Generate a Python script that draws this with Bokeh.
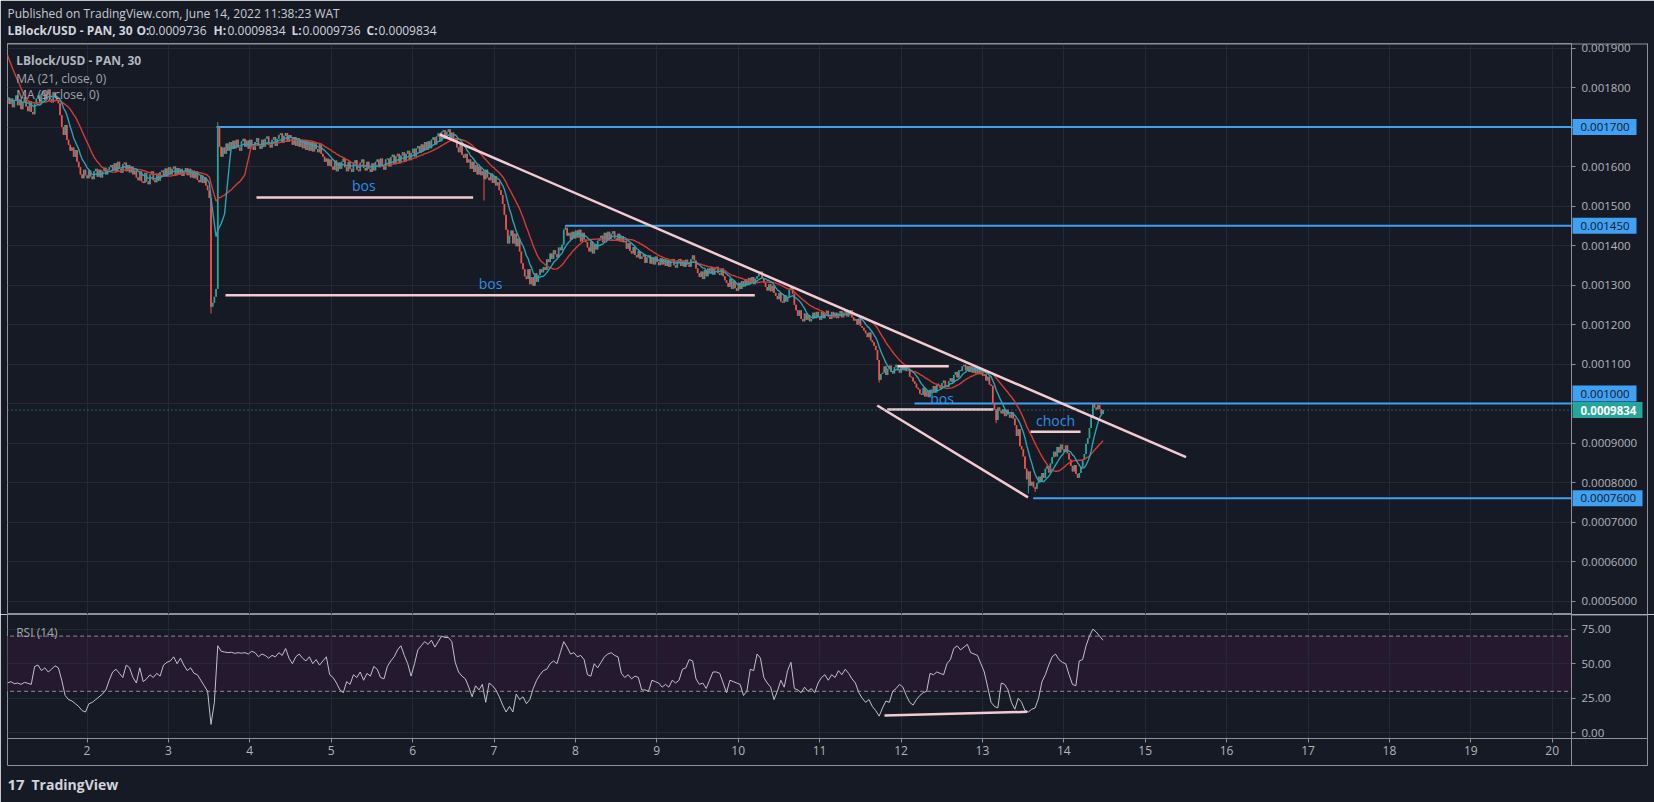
import numpy as np
from bokeh.plotting import figure
from bokeh.models import (Range1d, LinearAxis, FixedTicker, CustomJSTickFormatter,
                          NumeralTickFormatter, Grid, Span, Label, ColumnDataSource)
from bokeh.core.properties import value
from bokeh.layouts import column
from bokeh.embed import file_html
from bokeh.resources import INLINE

# ----------------------------------------------------------------- data
# 30-minute closes of LBlock/USD (units of 1e-6 USD)
warmup_close_e6 = [2010, 1995, 1990, 1980, 1985, 1970, 1960, 1975, 1950, 1940,
                   1920, 1880, 1800, 1775, 1768, 1772, 1765, 1770, 1774, 1768]
close_e6 = [
    1775, 1758, 1772, 1750, 1768, 1780, 1755, 1770, 1745, 1762, 1776,
    1752, 1740, 1765, 1738, 1732, 1758, 1772, 1780, 1762, 1785,
    1790, 1768, 1782, 1795, 1770, 1762, 1788, 1775, 1768, 1760,
    1730, 1700, 1680, 1705, 1668, 1655, 1640, 1648, 1625, 1642, 1612, 1598, 1580, 1570, 1592,
    1578, 1570, 1590, 1575, 1568, 1588, 1594, 1574, 1592, 1572, 1588, 1597, 1580, 1592, 1598,
    1604, 1590, 1608, 1586, 1612, 1594, 1584, 1606, 1610, 1588, 1604, 1585, 1600, 1580, 1590,
    1572, 1565, 1588, 1562, 1558, 1584, 1562, 1555, 1580, 1588, 1565, 1560, 1582, 1564, 1586,
    1590, 1574, 1595, 1578, 1598, 1580, 1594, 1600, 1578, 1596, 1580, 1594, 1576, 1588, 1596,
    1578, 1594, 1572, 1590, 1570, 1588, 1566, 1560, 1578, 1558, 1572, 1552, 1540, 1520,
    1245, 1255, 1270, 1290, 1700, 1650,
    1625, 1648, 1632, 1658, 1640, 1662, 1644, 1665, 1646, 1668, 1648, 1640, 1664, 1670, 1650,
    1666, 1645, 1668, 1650, 1642, 1662, 1672, 1652, 1645, 1668, 1650, 1670, 1676, 1655, 1648,
    1668, 1675, 1652, 1670, 1680, 1684, 1660, 1678, 1685, 1662, 1680, 1672, 1655, 1675, 1652,
    1672, 1650, 1668, 1646, 1666, 1642, 1664, 1640, 1662, 1638, 1660, 1644, 1636, 1658, 1632,
    1625, 1612, 1620, 1602, 1618,
    1600, 1592, 1615, 1588, 1610, 1594, 1612, 1620, 1598, 1588, 1612, 1594, 1586, 1608, 1616,
    1592, 1588, 1610, 1618, 1596, 1590, 1612, 1594, 1586, 1608, 1590, 1612, 1618, 1598, 1620,
    1600, 1592, 1618, 1620, 1600, 1624, 1630, 1606, 1626, 1632, 1608, 1628, 1636, 1612, 1632,
    1640, 1616, 1634, 1645,
    1625, 1646, 1652, 1634, 1656, 1640, 1662, 1642, 1664, 1646, 1668, 1674, 1656,
    1676, 1684, 1664, 1688, 1692, 1670, 1688, 1694, 1668, 1686, 1664, 1672,
    1648, 1636, 1656, 1630, 1622, 1632, 1610,
    1618, 1594, 1612, 1586, 1604, 1580, 1600, 1578,
    1588, 1568, 1592, 1572, 1565, 1582, 1558, 1576, 1552, 1560,
    1540, 1528, 1505, 1478, 1440, 1405,
    1425, 1438, 1405, 1430, 1398, 1418,
    1385, 1355, 1340, 1322, 1315, 1340, 1302, 1320, 1298, 1330, 1308,
    1325, 1340, 1332, 1345, 1338,
    1365, 1358, 1380, 1366, 1388, 1378, 1370, 1395, 1388, 1402,
    1440, 1445, 1425,
    1432, 1415, 1435, 1418, 1438, 1420, 1440, 1410, 1432, 1415, 1408,
    1395, 1385, 1410, 1380, 1402, 1390, 1412,
    1418, 1425, 1408, 1432, 1414, 1435, 1416, 1430, 1436, 1418, 1412, 1430, 1410, 1424, 1408,
    1412, 1392, 1406, 1386, 1380, 1396, 1376, 1370, 1386, 1366,
    1372, 1378, 1356, 1370, 1375, 1354, 1370, 1352, 1372, 1358, 1350, 1368,
    1352, 1366, 1348, 1364, 1346, 1362, 1366, 1350, 1344, 1362, 1366, 1348, 1362, 1346, 1364,
    1352, 1346,
    1365, 1375, 1362,
    1342, 1330, 1320, 1334, 1315, 1338, 1322, 1342,
    1330, 1345, 1326, 1342, 1346, 1330, 1325, 1342, 1322,
    1312, 1305, 1295, 1316, 1290, 1310, 1292, 1285, 1306, 1290, 1310, 1296,
    1314, 1300, 1318, 1304, 1320, 1302, 1316, 1322,
    1328, 1334, 1318, 1306,
    1295, 1286, 1302, 1284, 1298, 1280,
    1272, 1264, 1280, 1258, 1255, 1274, 1258, 1270,
    1288, 1295, 1278,
    1250, 1236, 1222, 1236, 1214, 1208, 1228, 1212, 1224, 1208,
    1214, 1230, 1216, 1232, 1218, 1212, 1232, 1216, 1228, 1235, 1220, 1214, 1232, 1218, 1230,
    1216, 1228, 1234, 1218, 1230, 1236, 1220, 1232, 1236,
    1218, 1210, 1214, 1200, 1215, 1196, 1192, 1185,
    1178, 1168, 1180, 1160, 1155, 1146,
    1135, 1110, 1060, 1075,
    1078, 1094, 1072, 1088, 1096, 1080, 1076, 1092, 1098, 1084, 1078, 1096, 1084, 1098, 1082,
    1084, 1068, 1066, 1056, 1050, 1040,
    1036, 1025, 1022, 1040, 1018, 1032, 1016, 1035,
    1030, 1044, 1028, 1050, 1046, 1038, 1052, 1058, 1044, 1042, 1056, 1064, 1054,
    1072, 1080, 1066, 1084, 1082, 1094, 1098, 1084, 1095,
    1080, 1094, 1078, 1092, 1076, 1090, 1074, 1086, 1070, 1074,
    1058, 1068, 1048, 1045,
    1000, 985, 958, 990,
    982, 975, 986, 968, 984, 972, 964, 978, 962,
    945, 918, 935, 892, 884, 866,
    835, 808, 828, 792,
    802, 788, 784, 798,
    815, 802, 824, 812, 835, 842, 825, 848,
    864, 878, 866, 890, 876, 896, 884, 878, 894, 874,
    858, 842, 828, 844, 822, 812, 824, 838,
    858, 872, 898, 912, 938, 968,
    998, 990, 985, 996, 986, 973.6, 983.4,
]
# long wicks (bar index -> extreme, 1e-6 USD)
low_wick_e6 = {120: 1228, 281: 1514, 514: 1053, 583: 950, 602: 772, 606: 776}
high_wick_e6 = {124: 1712, 329: 1452, 641: 1000}

# RSI(14), one reading per hour (every second bar)
rsi_hourly = [
    36, 37, 35.5, 36, 35, 36.5, 35.8, 35,
    48, 49, 45, 47, 44, 46, 48.5, 47,
    38, 27, 24, 23, 21, 19, 16, 15,
    21, 22, 24, 26, 28, 31, 38, 44,
    46, 43, 40, 49, 47, 40, 36, 47,
    37, 39, 42, 40, 43, 41, 49, 51,
    52, 55, 50, 54, 49, 45, 47, 43,
    42, 38, 34, 30, 6, 22, 63, 59,
    58.5, 58, 58.3, 57.5, 58, 57.6, 58, 57,
    59, 58, 55, 57, 56, 54, 56, 55,
    58, 56, 61, 54, 50, 55, 57, 54,
    52, 55, 50, 53, 49, 52, 55, 42,
    40, 36, 31, 29, 37, 35, 42, 40,
    44, 38, 43, 41, 48, 46, 40, 39,
    48, 52, 55, 60, 63, 56, 50, 41,
    50, 60, 63, 66, 64, 67, 62, 66,
    70, 69, 69, 66, 51, 44, 41, 39,
    33, 26, 34, 31, 35, 22, 36, 34,
    31, 26, 20, 15, 19, 15, 28, 24,
    26, 21, 24, 32, 38, 42, 45, 46,
    50, 52, 50, 58, 66, 62, 57, 58,
    55, 56, 53, 42, 41, 50, 47, 51,
    55, 57, 58, 56, 55, 43, 40, 42,
    39, 41, 40, 31, 31, 30, 38, 37,
    36, 33, 35, 33, 38, 36, 38, 46,
    47, 53, 52, 39, 35, 36, 32, 38,
    44, 44, 43, 36, 29, 38, 37, 36,
    35, 27, 30, 46, 45, 57, 54, 40,
    36, 33, 24, 30, 38, 33, 45, 51,
    32, 31, 29, 33, 30, 32, 29, 36,
    40, 42, 38, 42, 40, 45, 42, 46,
    43, 39, 36, 29, 25, 22, 24, 19,
    16, 12, 18, 23, 22, 30, 32, 35,
    33, 27, 22, 20, 24, 27, 29, 30,
    43, 42, 44, 43, 42, 50, 53, 61,
    63, 60, 62, 64, 58, 57, 56, 50,
    44, 33, 22, 19, 18, 36, 35, 31,
    22, 17, 25, 22, 16, 15, 17, 18,
    25, 37, 42, 49, 55, 57, 53, 51,
    50, 42, 35, 34, 52, 53, 63, 70,
    75, 73, 70, 67,
]

day_ticks = [2, 3, 4, 5, 6, 7, 8, 9, 10, 11, 12, 13, 14, 15, 16, 17, 18, 19, 20]
price_ticks = [0.0005, 0.0006, 0.0007, 0.0008, 0.0009, 0.0010, 0.0011, 0.0012,
               0.0013, 0.0014, 0.0015, 0.0016, 0.0017, 0.0018, 0.0019]
rsi_ticks = [0, 25, 50, 75]
rsi_bands = [30, 70]

last_open = 0.0009736
last_price = 0.0009834
level_prices = [0.0017, 0.00145, 0.0010, 0.00076]
level_start_days = [3.591, 7.878, 12.166, 13.624]

trend_days = [6.334, 15.502]
trend_prices = [0.001681, 0.000864]
channel_days = [11.708, 13.560]
channel_prices = [0.0009949, 0.0007625]
struct_day0 = [4.082, 3.701, 11.961, 11.830, 13.591]
struct_day1 = [6.744, 10.204, 12.587, 13.136, 14.206]
struct_price = [0.0015215, 0.001274, 0.0010944, 0.0009848, 0.0009284]
struct_text = ["bos", "bos", "bos", "choch"]
struct_text_day = [5.400, 6.957, 12.504, 13.898]
struct_text_price = [0.001552, 0.0013046, 0.0010139, 0.0009557]
rsi_div_days = [11.797, 13.551]
rsi_div_values = [12.5, 15.1]

first_bar_day = 1.0233
bars_per_day = 48

# ----------------------------------------------------------------- style
BG = "#161a25"
GRID = "#252935"
FRAME = "#8e919a"
TXT = "#b2b5be"
UP = "#26a69a"
DOWN = "#ef5350"
MA9_C = "#24a6b6"
MA21_C = "#d63b34"
LEVEL = "#3fa1f4"
DRAW = "#f3cbd1"
BOS = "#2f8fe6"
BAND = "#24192f"
FONT = "Open Sans"

W, H1, H2 = 1654, 614, 188
FR_L, FR_R, FR_T, SEP, RSI_B, AX_B, OUT_R = 7, 1571, 43, 614, 738, 765, 1647


def px_day(x):
    return 2 + (x - 86.5) / 81.4


def py_price(y):
    return 0.0019 - (y - 47.5) / 395000.0


def price_py(p):
    return 47.5 + (0.0019 - p) * 395000.0


def py_rsi(y):
    return 75 - (y - 628.7) / 34.5 * 25


# ----------------------------------------------------------------- series
E6 = 1e-6
closes = np.array(close_e6, dtype=float) * E6
warm = np.array(warmup_close_e6, dtype=float) * E6
n = len(closes)
opens = np.concatenate([warm[-1:], closes[:-1]])
highs = np.maximum(opens, closes)
lows = np.minimum(opens, closes)
for k, v in low_wick_e6.items():
    lows[k] = min(lows[k], v * E6)
for k, v in high_wick_e6.items():
    highs[k] = max(highs[k], v * E6)
t = first_bar_day + np.arange(n) / bars_per_day
full = np.concatenate([warm, closes])


def sma(arr, w):
    return np.convolve(arr, np.ones(w) / w, mode="valid")[-n:]


ma9 = sma(full, 9)
ma21 = sma(full, 21)
colors = [UP if c >= o else DOWN for o, c in zip(opens, closes)]
src = ColumnDataSource(dict(t=t, top=np.maximum(opens, closes), bottom=np.minimum(opens, closes),
                            high=highs, low=lows, color=colors))

xr = Range1d(px_day(FR_L), px_day(FR_R))


def drop_default_grids(p):
    p.center = [r for r in p.center if not isinstance(r, Grid)]


def hline(p, conv, x0, x1, y, color=FRAME):
    p.segment(x0=[px_day(x0)], y0=[conv(y)], x1=[px_day(x1)], y1=[conv(y)],
              line_color=color, line_width=1, level="overlay")


def vline(p, conv, x, y0, y1, color=FRAME):
    p.segment(x0=[px_day(x)], y0=[conv(y0)], x1=[px_day(x)], y1=[conv(y1)],
              line_color=color, line_width=1, level="overlay")


def ptext(p, conv, xs, y, texts, size, color, style="normal", align="left"):
    p.text(x=[px_day(x) for x in xs], y=[conv(y)] * len(xs), text=texts,
           text_font=value(FONT), text_font_size=value(size), text_font_style=value(style),
           text_color=color, text_baseline="middle", text_align=align, level="overlay")


# ----------------------------------------------------------------- price pane
p1 = figure(width=W, height=H1, x_range=xr, y_range=Range1d(py_price(SEP), py_price(FR_T)),
            x_axis_location=None, y_axis_location=None, toolbar_location=None, tools="",
            output_backend="svg", title=None,
            min_border_left=FR_L, min_border_right=W - FR_R, min_border_top=FR_T,
            min_border_bottom=0, background_fill_color=BG, border_fill_color=BG,
            outline_line_color=FRAME)
drop_default_grids(p1)

fmt = CustomJSTickFormatter(args=dict(hidden=[0.0017, 0.0010]), code="""
for (const h of hidden) { if (Math.abs(tick - h) < 1e-10) { return ""; } }
return tick >= 0.00099999 ? tick.toFixed(6) : tick.toFixed(7);
""")
yax = LinearAxis(ticker=FixedTicker(ticks=price_ticks), formatter=fmt,
                 axis_line_color=FRAME, major_tick_line_color=FRAME,
                 major_tick_out=4, major_tick_in=0, minor_tick_line_color=None,
                 major_label_text_color=TXT, major_label_text_font=FONT,
                 major_label_text_font_size="11.5px", major_label_standoff=6)
p1.add_layout(yax, "right")
p1.add_layout(Grid(dimension=0, ticker=FixedTicker(ticks=day_ticks), grid_line_color=GRID))
p1.add_layout(Grid(dimension=1, ticker=FixedTicker(ticks=price_ticks), grid_line_color=GRID))

# level rays and last-price line
x_end = [xr.end + 1] * len(level_prices)
p1.segment(x0=level_start_days, y0=level_prices, x1=x_end, y1=level_prices,
           line_color=LEVEL, line_width=2)
p1.add_layout(Span(location=last_price, dimension="width", line_color=UP,
                   line_dash="1 3", line_width=1))

# candles and moving averages
p1.segment(x0="t", y0="low", x1="t", y1="high", line_color="color", line_width=1, source=src)
p1.vbar(x="t", width=1.0 / bars_per_day, top="top", bottom="bottom",
        fill_color="color", line_color=None, source=src)
p1.line(t, ma21, line_color=MA21_C, line_width=1.4)
p1.line(t, ma9, line_color=MA9_C, line_width=1.4)

# drawings
p1.line(trend_days, trend_prices, line_color=DRAW, line_width=2.5)
p1.line(channel_days, channel_prices, line_color=DRAW, line_width=2.5)
p1.segment(x0=struct_day0, y0=struct_price, x1=struct_day1, y1=struct_price,
           line_color=DRAW, line_width=2.5)
for txt, d, pr in zip(struct_text, struct_text_day, struct_text_price):
    p1.add_layout(Label(x=d, y=pr, text=txt, text_align="center", text_baseline="middle",
                        text_color=BOS, text_font=FONT, text_font_size="14px"))

# legend inside the pane
leg = [(60.3, "LBlock/USD - PAN, 30", "bold", "#b2b5be"),
       (77.7, "MA (21, close, 0)", "normal", "#a3a6af"),
       (94.3, "MA (9, close, 0)", "normal", "#a3a6af")]
for y, s, wt, c in leg:
    p1.add_layout(Label(x=px_day(15.7), y=py_price(y), text=s, text_baseline="middle",
                        text_color=c, text_font=FONT, text_font_size="12px", text_font_style=wt))

# frame lines outside the plotting area
hline(p1, py_price, FR_L, OUT_R, FR_T + 0.5)
vline(p1, py_price, OUT_R, FR_T, SEP)

# axis price tags (the 0.001000 tag is pushed 10px up by the last-price tag)
tag_values = [0.0017, 0.00145, 0.0010, last_price, 0.00076]
tag_fill = [LEVEL, LEVEL, LEVEL, UP, LEVEL]
tag_text_color = ["#131722", "#131722", "#131722", "#ffffff", "#131722"]
tag_style = ["normal", "normal", "normal", "bold", "normal"]
tag_shift_px = [0, 0, 10, 0, 0]
tag_width_px = [64, 64, 64, 70, 70]
for val, bg, fg, wt, shift, wpx in zip(tag_values, tag_fill, tag_text_color, tag_style,
                                       tag_shift_px, tag_width_px):
    cy = price_py(val) - shift
    p1.quad(left=[px_day(FR_R + 1)], right=[px_day(FR_R + 1 + wpx)],
            top=[py_price(cy - 8)], bottom=[py_price(cy + 8)],
            fill_color=bg, line_color=None, level="overlay")
    label = f"{val:.6f}" if val >= 0.00099999 else f"{val:.7f}"
    ptext(p1, py_price, [1580], cy, [label], "11.5px", fg, wt)

# header above the chart
ptext(p1, py_price, [7], 13, ["Published on TradingView.com, June 14, 2022 11:38:23 WAT"],
      "12px", "#c9cbd2")
ptext(p1, py_price, [7, 136, 213, 291, 366], 30,
      ["LBlock/USD - PAN, 30", "O:", "H:", "L:", "C:"], "12px", "#d1d4dc", "bold")
ptext(p1, py_price, [148, 227, 302, 378], 30,
      [f"{last_open:.7f}", f"{last_price:.7f}", f"{last_open:.7f}", f"{last_price:.7f}"],
      "12px", "#d1d4dc")

# ----------------------------------------------------------------- RSI pane
p2 = figure(width=W, height=H2, x_range=xr, y_range=Range1d(py_rsi(RSI_B), py_rsi(SEP)),
            x_axis_location=None, y_axis_location=None, toolbar_location=None, tools="",
            output_backend="svg", title=None,
            min_border_left=FR_L, min_border_right=W - FR_R, min_border_top=0,
            min_border_bottom=H1 + H2 - RSI_B, background_fill_color=BG, border_fill_color=BG,
            outline_line_color=FRAME)
drop_default_grids(p2)
rax = LinearAxis(ticker=FixedTicker(ticks=rsi_ticks), formatter=NumeralTickFormatter(format="0.00"),
                 axis_line_color=FRAME, major_tick_line_color=FRAME, major_tick_out=4,
                 major_tick_in=0, minor_tick_line_color=None, major_label_text_color=TXT,
                 major_label_text_font=FONT, major_label_text_font_size="11.5px",
                 major_label_standoff=6)
p2.add_layout(rax, "right")
xax = LinearAxis(ticker=FixedTicker(ticks=day_ticks), axis_line_color=FRAME,
                 major_tick_line_color=FRAME, major_tick_out=4, major_tick_in=0,
                 minor_tick_line_color=None, major_label_text_color=TXT,
                 major_label_text_font=FONT, major_label_text_font_size="12px",
                 major_label_standoff=3)
p2.add_layout(xax, "below")
# overbought / oversold band
p2.quad(left=[xr.start - 1], right=[xr.end + 1], bottom=[rsi_bands[0]], top=[rsi_bands[1]],
        fill_color=BAND, line_color=None, level="underlay")
p2.add_layout(Grid(dimension=0, ticker=FixedTicker(ticks=day_ticks), grid_line_color=GRID))
p2.add_layout(Grid(dimension=1, ticker=FixedTicker(ticks=rsi_ticks), grid_line_color=GRID))
p2.segment(x0=[xr.start - 1] * 2, y0=rsi_bands, x1=[xr.end + 1] * 2, y1=rsi_bands,
           line_color="#8a8d96", line_dash="4 3", line_width=1)
t_rsi = t[::2]
p2.line(t_rsi, rsi_hourly, line_color="#c3c0cc", line_width=1)
p2.line(rsi_div_days, rsi_div_values, line_color=DRAW, line_width=2.5)
p2.add_layout(Label(x=px_day(15.7), y=py_rsi(632), text="RSI (14)", text_baseline="middle",
                    text_color="#a3a6af", text_font=FONT, text_font_size="12px"))

# frame lines around the axis areas
hline(p2, py_rsi, FR_R, OUT_R, SEP + 0.5)
hline(p2, py_rsi, FR_R, OUT_R, RSI_B)
hline(p2, py_rsi, FR_L, OUT_R, AX_B)
vline(p2, py_rsi, OUT_R, SEP, AX_B)
vline(p2, py_rsi, FR_L, RSI_B, AX_B)
vline(p2, py_rsi, FR_R, RSI_B, AX_B)

# branding
ptext(p2, py_rsi, [7], 784, ["17"], "15px", "#d1d4dc", "bold")
ptext(p2, py_rsi, [31], 784, ["TradingView"], "14px", "#d1d4dc", "bold")

layout = column(p1, p2, spacing=0)
open("out.html", "w").write(file_html(layout, INLINE))
